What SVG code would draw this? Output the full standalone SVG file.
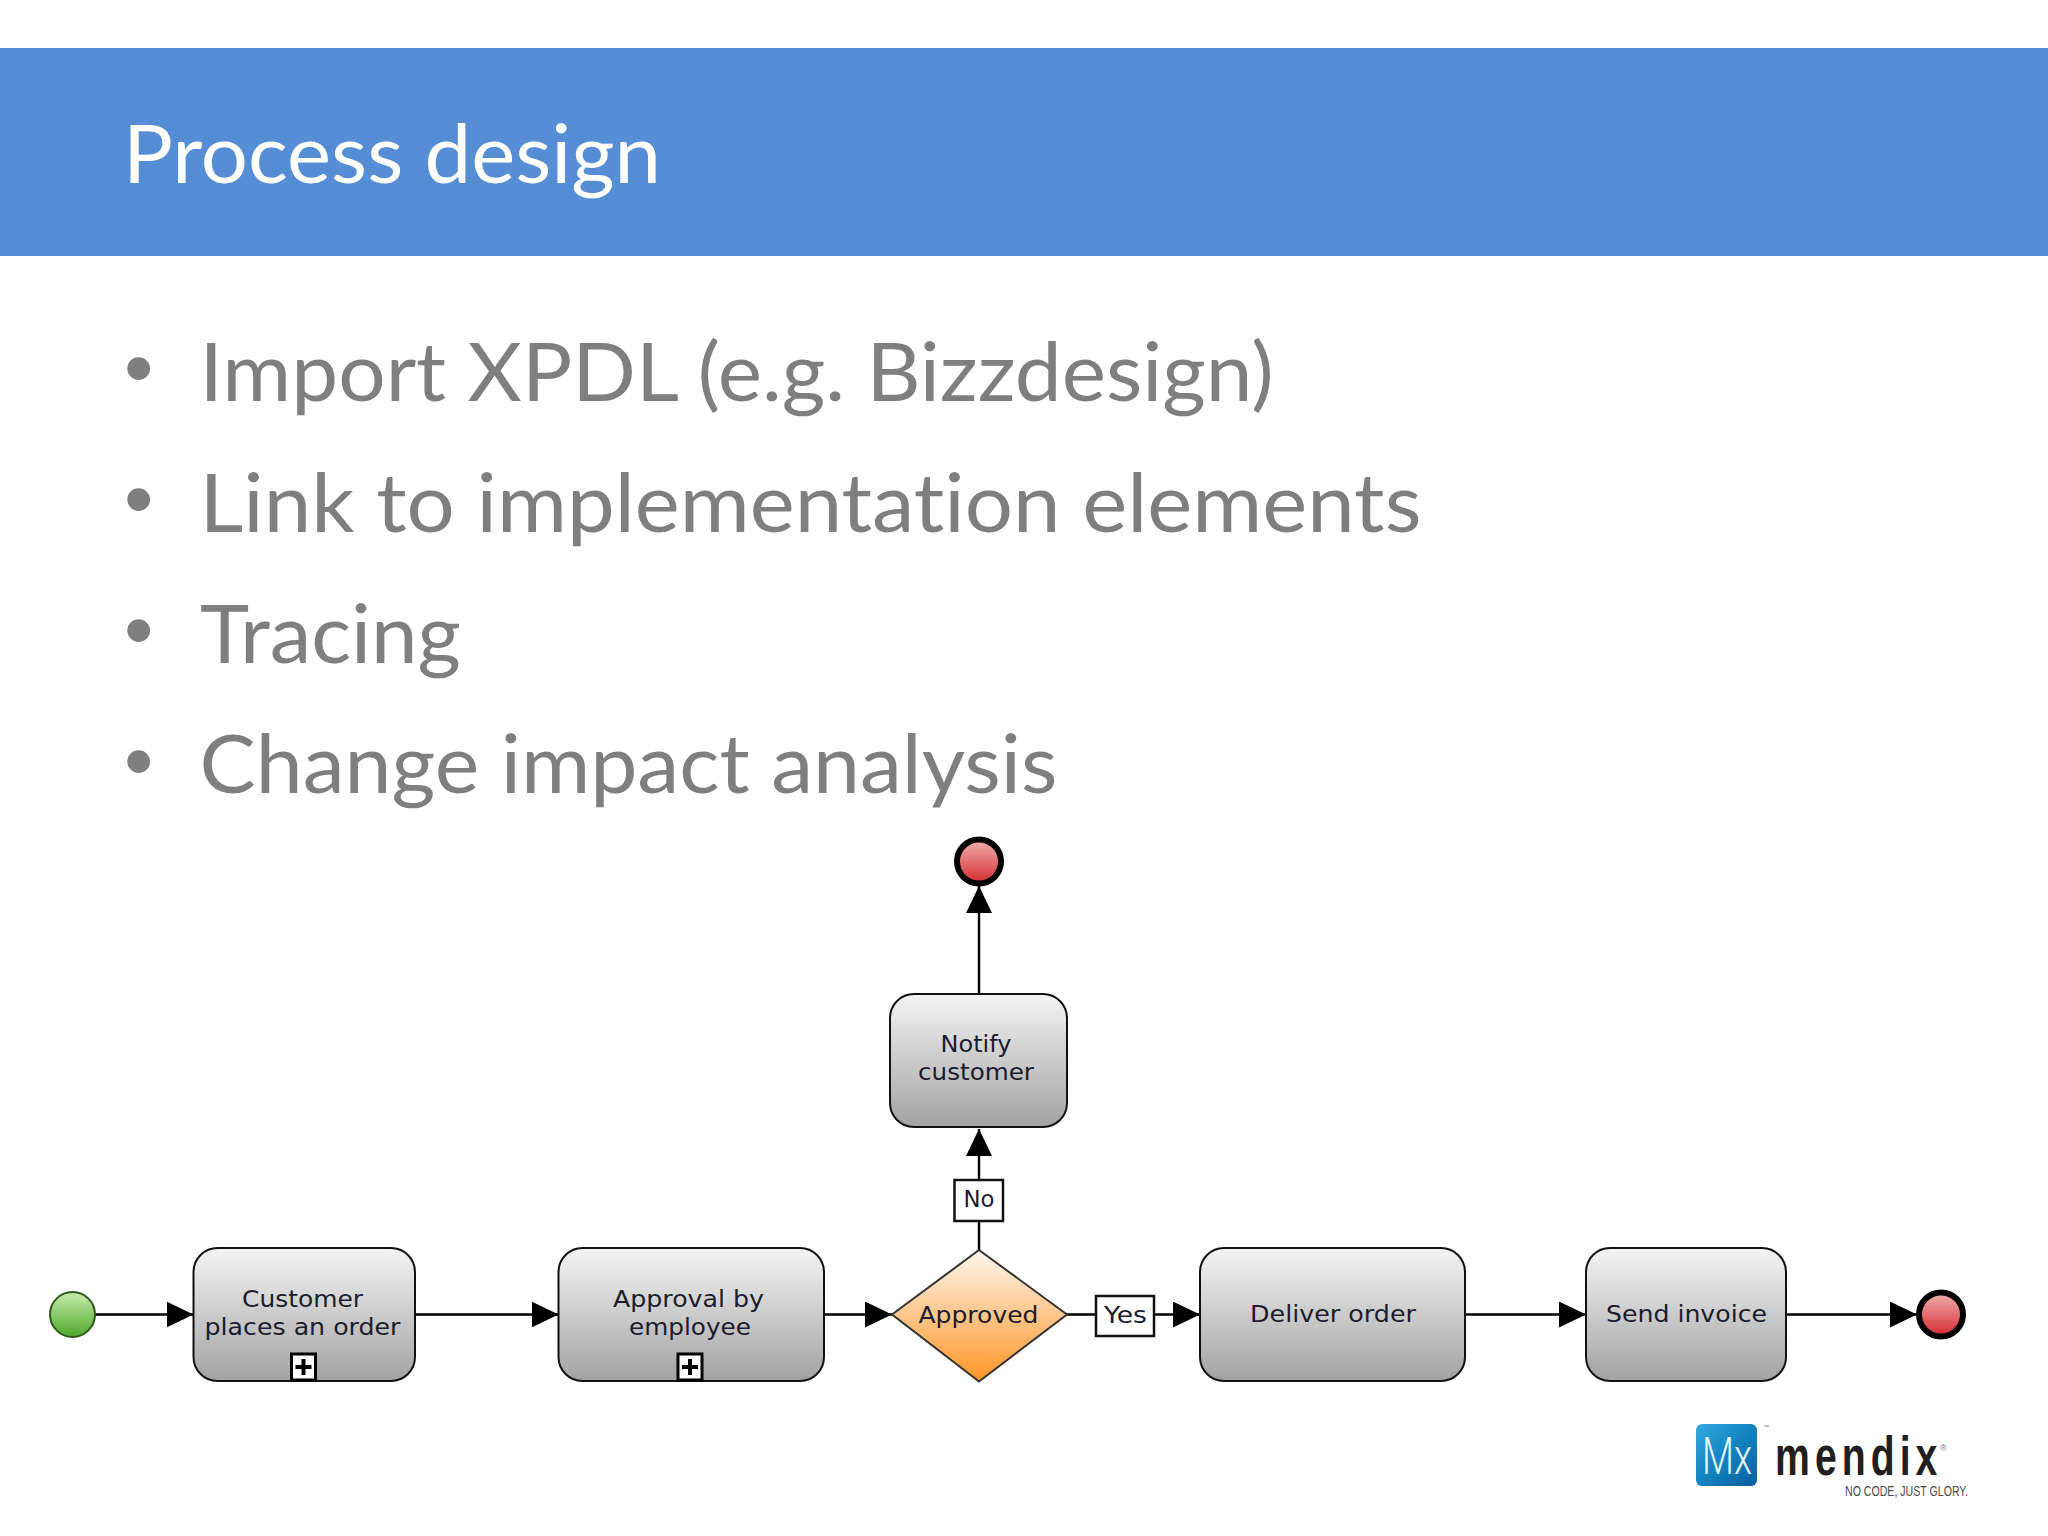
<svg xmlns="http://www.w3.org/2000/svg" width="2048" height="1536" viewBox="0 0 2048 1536">
<style>
.t{font-family:"Lato","Open Sans",sans-serif;font-size:82px;font-variant-ligatures:none}
.b{fill:#7f7f7f}
.l{font-family:"DejaVu Sans",sans-serif;font-size:23px;fill:#1c1c2c}
.box{fill:url(#g);stroke:#111;stroke-width:2}
.lab{fill:#fff;stroke:#111;stroke-width:2.5}
.c{stroke:#000;stroke-width:2.4;fill:none}
.end{fill:url(#r);stroke:#000;stroke-width:6}
</style>
<defs>
<linearGradient id="g" x1="0" y1="0" x2="0" y2="1"><stop offset="0" stop-color="#f4f4f4"/><stop offset="1" stop-color="#a2a2a3"/></linearGradient>
<linearGradient id="o" x1="0" y1="0" x2="0" y2="1"><stop offset="0" stop-color="#fff6ee"/><stop offset="1" stop-color="#ff9526"/></linearGradient>
<linearGradient id="r" x1="0" y1="0" x2="0" y2="1"><stop offset="0" stop-color="#f0b0b0"/><stop offset="1" stop-color="#d42a2e"/></linearGradient>
<linearGradient id="gr" x1="0" y1="0" x2="0" y2="1"><stop offset="0" stop-color="#c8ecae"/><stop offset="1" stop-color="#4ea82a"/></linearGradient>
<linearGradient id="mx" x1="0" y1="0" x2="1" y2="1"><stop offset="0" stop-color="#35a8de"/><stop offset="0.5" stop-color="#1283c0"/><stop offset="1" stop-color="#0a5f9c"/></linearGradient>
<marker id="a" markerUnits="userSpaceOnUse" markerWidth="28" markerHeight="26" refX="27" refY="13" orient="auto"><polygon points="0,0 27,13 0,26"/></marker>
</defs>
<rect width="2048" height="1536" fill="#fff"/>
<g id="header"><rect x="0" y="48" width="2048" height="208" fill="#558ed5"/>
<text class="t" x="123" y="182.500" fill="#fff" textLength="538" lengthAdjust="spacingAndGlyphs">Process design</text></g>
<g id="bullets">
<text class="t b" x="199.500" y="400.500" textLength="1074" lengthAdjust="spacingAndGlyphs">Import XPDL (e.g. Bizzdesign)</text>
<text class="t b" x="199.500" y="531.500" textLength="1222" lengthAdjust="spacingAndGlyphs">Link to implementation elements</text>
<text class="t b" x="200" y="662.500" textLength="261" lengthAdjust="spacingAndGlyphs">Tracing</text>
<text class="t b" x="199.500" y="793" textLength="858" lengthAdjust="spacingAndGlyphs">Change impact analysis</text>
<g font-family="Liberation Sans, sans-serif" font-size="84" fill="#7f7f7f">
<text x="124" y="396">•</text><text x="124" y="527">•</text><text x="124" y="658">•</text><text x="124" y="789">•</text></g>
</g>
<g id="connectors">
<path class="c" d="M95 1314.500H193.500" marker-end="url(#a)"/>
<path class="c" d="M415 1314.500H558.500" marker-end="url(#a)"/>
<path class="c" d="M824 1314.500H892" marker-end="url(#a)"/>
<path class="c" d="M1066 1314.500H1200" marker-end="url(#a)"/>
<path class="c" d="M1465 1314.500H1586" marker-end="url(#a)"/>
<path class="c" d="M1786 1314.500H1917" marker-end="url(#a)"/>
<path class="c" d="M979 1250V1129" marker-end="url(#a)"/>
<path class="c" d="M979 994V886" marker-end="url(#a)"/>
</g>
<g id="start"><circle cx="72.500" cy="1314.500" r="22.500" fill="url(#gr)" stroke="#2c5a1c" stroke-width="2"/></g>
<g id="customer"><rect class="box" x="193.500" y="1248" width="221.500" height="133" rx="24"/>
<text class="l" x="242" y="1306.500" textLength="121" lengthAdjust="spacingAndGlyphs">Customer</text>
<text class="l" x="204.500" y="1335" textLength="196" lengthAdjust="spacingAndGlyphs">places an order</text>
<rect x="291.500" y="1354" width="24" height="26" fill="#fff" stroke="#000" stroke-width="3"/><path d="M303.500 1359V1375M295.500 1367H311.500" stroke="#000" stroke-width="4"/></g>
<g id="approval"><rect class="box" x="558.500" y="1248" width="265.500" height="133" rx="24"/>
<text class="l" x="613" y="1306.500" textLength="151" lengthAdjust="spacingAndGlyphs">Approval by</text>
<text class="l" x="629" y="1335" textLength="122" lengthAdjust="spacingAndGlyphs">employee</text>
<rect x="678" y="1354" width="24" height="26" fill="#fff" stroke="#000" stroke-width="3"/><path d="M690 1359V1375M682 1367H698" stroke="#000" stroke-width="4"/></g>
<g id="decision"><polygon points="979,1250 1067,1314.500 979,1381.500 892,1314.500" fill="url(#o)" stroke="#333" stroke-width="2"/>
<text class="l" x="918.500" y="1322.500" textLength="120" lengthAdjust="spacingAndGlyphs">Approved</text></g>
<g id="label-no"><rect class="lab" x="954.500" y="1180" width="48.500" height="41"/><text class="l" x="963.500" y="1207" textLength="31" lengthAdjust="spacingAndGlyphs">No</text></g>
<g id="label-yes"><rect class="lab" x="1096" y="1296" width="58" height="40"/><text class="l" x="1104" y="1322.500" textLength="43" lengthAdjust="spacingAndGlyphs">Yes</text></g>
<g id="notify"><rect class="box" x="890" y="994" width="177" height="133" rx="24"/>
<text class="l" x="940.500" y="1051.500" textLength="71" lengthAdjust="spacingAndGlyphs">Notify</text>
<text class="l" x="918" y="1080" textLength="116" lengthAdjust="spacingAndGlyphs">customer</text></g>
<g id="end-top"><circle class="end" cx="979" cy="861.500" r="22"/></g>
<g id="deliver"><rect class="box" x="1200" y="1248" width="265" height="133" rx="24"/>
<text class="l" x="1250" y="1322" textLength="166" lengthAdjust="spacingAndGlyphs">Deliver order</text></g>
<g id="invoice"><rect class="box" x="1586" y="1248" width="200" height="133" rx="24"/>
<text class="l" x="1606" y="1322" textLength="161" lengthAdjust="spacingAndGlyphs">Send invoice</text></g>
<g id="end-right"><circle class="end" cx="1941" cy="1314.500" r="22"/></g>
<g id="logo">
<rect x="1696" y="1424" width="61" height="62" rx="6" fill="url(#mx)"/>
<text x="1702" y="1474" font-family="Roboto, sans-serif" font-weight="300" font-size="52" fill="#e2f6fd" textLength="50" lengthAdjust="spacingAndGlyphs">Mx</text>
<text x="1763" y="1429" font-family="Liberation Sans, sans-serif" font-size="6" fill="#777">™</text>
<text transform="translate(1775 1475) scale(.7 1)" font-family="Liberation Sans, sans-serif" font-weight="700" font-size="56" fill="#231f20" textLength="232" lengthAdjust="spacing">mendix</text>
<text x="1940" y="1451" font-family="Liberation Sans, sans-serif" font-size="9" fill="#777">®</text>
<text x="1845" y="1496" font-family="Liberation Sans, sans-serif" font-size="14" fill="#4a4a4a" textLength="123" lengthAdjust="spacingAndGlyphs">NO CODE, JUST GLORY.</text>
</g>
</svg>
